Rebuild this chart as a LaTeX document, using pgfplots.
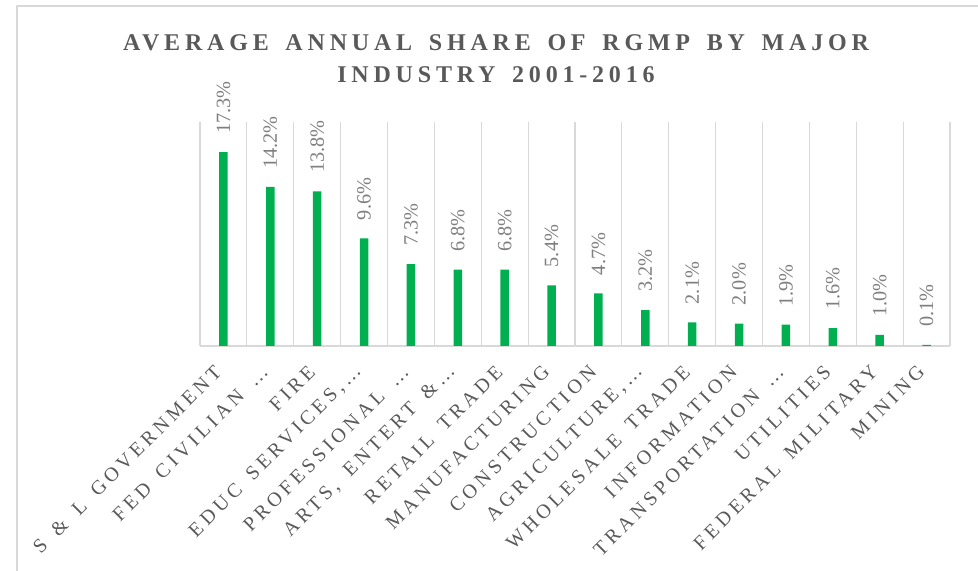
\documentclass[border=0pt]{standalone}
\usepackage{pgfplots}
\pgfplotsset{compat=1.18}
\usepackage{fontspec}
\setmainfont{Liberation Serif}
\newfontfamily\lblfont[LetterSpace=20,WordSpace=1.5]{Liberation Serif}
\newfontfamily\ttlfont[LetterSpace=20,WordSpace=1.55]{Liberation Serif}
\definecolor{barg}{HTML}{00B050}
\definecolor{txt}{HTML}{595959}
\definecolor{val}{HTML}{7F7F7F}
\definecolor{grd}{HTML}{D9D9D9}
\begin{document}
\begin{tikzpicture}
\useasboundingbox (0,0) rectangle (733.5pt,428.25pt);
\draw[grd, line width=1.5pt] (12.75pt,-5pt) -- (12.75pt,423.75pt) -- (740pt,423.75pt);
\node[anchor=base, font=\ttlfont\bfseries\fontsize{18}{22}\selectfont, text=txt] at (372pt,390pt) {AVERAGE ANNUAL SHARE OF RGMP BY MAJOR};
\node[anchor=base, font=\ttlfont\bfseries\fontsize{18}{22}\selectfont, text=txt] at (372pt,366pt) {INDUSTRY 2001-2016};
\begin{axis}[
  at={(150pt,168.75pt)}, anchor=south west,
  scale only axis, width=562.5pt, height=168.2pt,
  xmin=0.5, xmax=16.5, ymin=0, ymax=20,
  axis x line*=bottom, axis y line=none, ytick=\empty,
  x axis line style={grd, line width=1.2pt, -},
  xtick={1,...,16},
  xticklabels={{S \& L GOVERNMENT},{FED CIVILIAN …},{FIRE},{EDUC SERVICES,…},{PROFESSIONAL …},{ARTS, ENTERT \&…},{RETAIL TRADE},{MANUFACTURING},{CONSTRUCTION},{AGRICULTURE,…},{WHOLESALE TRADE},{INFORMATION},{TRANSPORTATION …},{UTILITIES},{FEDERAL MILITARY},{MINING}},
  major tick length=0pt, minor tick length=0pt,
  minor xtick={0.5,1.5,...,16.5}, xminorgrids,
  minor grid style={grd, line width=0.8pt},
  xticklabel style={font=\lblfont\fontsize{15}{17}\selectfont, text=txt, inner sep=0pt, xshift=-4pt, yshift=-17pt, rotate=45, anchor=east},
  ybar, bar width=6.4pt,
  /pgf/number format/assume math mode=true,
  nodes near coords={\pgfmathprintnumber[fixed,fixed zerofill,precision=1]{\pgfplotspointmeta}\%},
  every node near coord/.append style={rotate=90, anchor=west, inner xsep=13.5pt, inner ysep=0pt, font=\fontsize{15.2}{17}\selectfont, text=val},
]
\addplot[fill=barg, draw=none] coordinates {
(1,17.3) (2,14.2) (3,13.8) (4,9.6) (5,7.3) (6,6.8) (7,6.8) (8,5.4)
(9,4.7) (10,3.2) (11,2.1) (12,2.0) (13,1.9) (14,1.6) (15,1.0) (16,0.1)};
\end{axis}
\end{tikzpicture}
\end{document}
